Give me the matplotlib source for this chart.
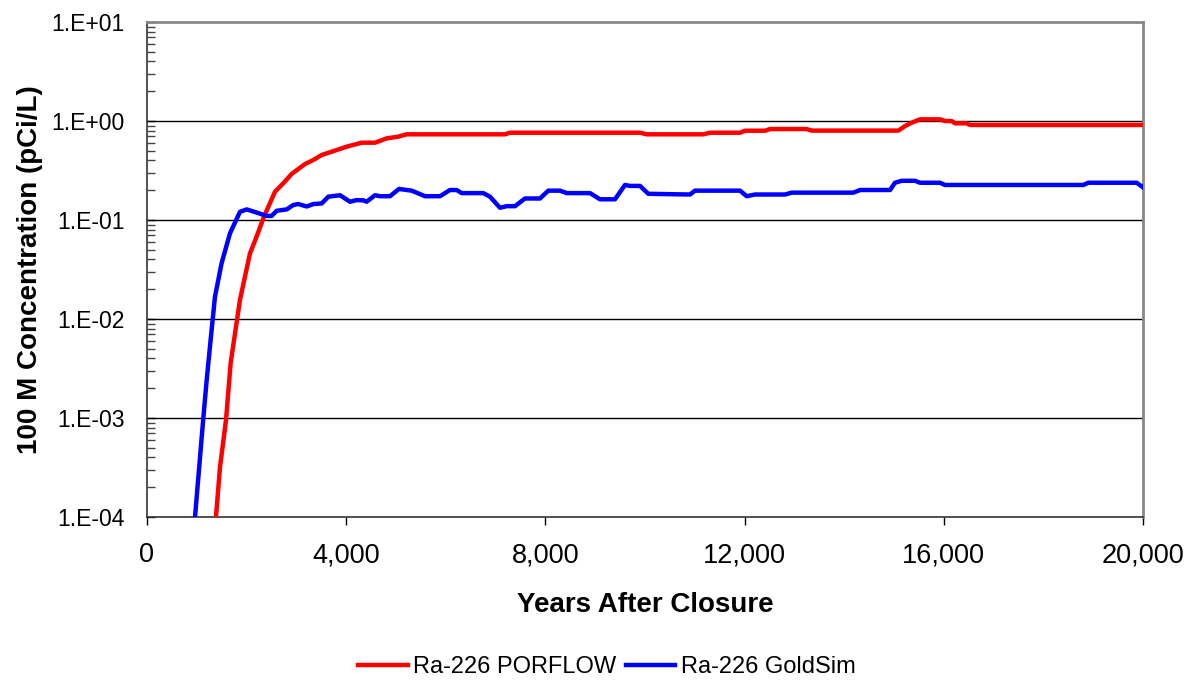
import numpy as np
import matplotlib
matplotlib.use("Agg")
import matplotlib.pyplot as plt
from matplotlib.ticker import FixedLocator, FuncFormatter, LogLocator, NullFormatter

plt.rcParams['font.family'] = ['Liberation Sans', 'DejaVu Sans']

# Ra-226 PORFLOW (lecture du graphique)
porflow_years = [1385, 1466, 1586, 1680, 1867, 2068, 2201, 2349, 2570, 2737, 2905,
                 3173, 3340, 3508, 3709, 4010, 4311, 4578, 4813, 5046, 5213, 7189,
                 7289, 9900, 10034, 11171, 11305, 11908, 12008, 12410, 12510, 13247,
                 13347, 15088, 15221, 15355, 15522, 15924, 16024, 16158, 16225,
                 16459, 16526, 20000]
porflow_conc = [1.0e-4, 3.2e-4, 9.5e-4, 3.6e-3, 0.0156, 0.046, 0.068, 0.108, 0.193,
                0.235, 0.292, 0.368, 0.404, 0.454, 0.490, 0.551, 0.604, 0.604, 0.668,
                0.695, 0.734, 0.734, 0.762, 0.762, 0.734, 0.734, 0.762, 0.762, 0.798,
                0.798, 0.830, 0.830, 0.80, 0.80, 0.889, 0.961, 1.04, 1.04, 1.0, 1.0,
                0.948, 0.948, 0.912, 0.912]

# Ra-226 GoldSim
goldsim_years = [964, 1131, 1198, 1277, 1365, 1498, 1667, 1867, 2002, 2201, 2402,
                 2503, 2604, 2805, 2938, 3039, 3207, 3340, 3508, 3641, 3876, 4076,
                 4209, 4344, 4410, 4578, 4679, 4880, 5060, 5315, 5582, 5884, 6084,
                 6218, 6319, 6754, 6888, 7088, 7222, 7390, 7590, 7892, 8058, 8293,
                 8427, 8896, 9096, 9398, 9598, 9699, 9900, 10066, 10904, 11004,
                 11908, 12042, 12209, 12811, 12946, 14183, 14317, 14920, 15020,
                 15154, 15422, 15522, 15924, 16024, 18802, 18902, 19873, 20000]
goldsim_conc = [1.0e-4, 1.0e-3, 2.4e-3, 6.1e-3, 0.0168, 0.0366, 0.0735, 0.121, 0.128,
                0.119, 0.110, 0.110, 0.124, 0.128, 0.142, 0.145, 0.137, 0.145, 0.147,
                0.172, 0.178, 0.153, 0.159, 0.158, 0.153, 0.178, 0.174, 0.174, 0.206,
                0.198, 0.174, 0.174, 0.201, 0.201, 0.187, 0.187, 0.172, 0.133, 0.138,
                0.138, 0.165, 0.165, 0.198, 0.198, 0.187, 0.187, 0.162, 0.162, 0.226,
                0.221, 0.221, 0.184, 0.181, 0.198, 0.198, 0.174, 0.181, 0.181, 0.189,
                0.189, 0.201, 0.201, 0.238, 0.249, 0.249, 0.238, 0.238, 0.226, 0.226,
                0.238, 0.238, 0.214]

x_ticks = [0, 4000, 8000, 12000, 16000, 20000]
y_ticks = [1e-4, 1e-3, 1e-2, 1e-1, 1e0, 1e1]
y_labels = ["1.E-04", "1.E-03", "1.E-02", "1.E-01", "1.E+00", "1.E+01"]

fig = plt.figure(figsize=(11.99, 6.88), dpi=100)
ax = fig.add_axes([0.1226, 0.2485, 0.8307, 0.7195])

ax.plot(porflow_years, porflow_conc, color='#ff0000', lw=3.2, label='Ra-226 PORFLOW',
        solid_joinstyle='round', zorder=3)
ax.plot(goldsim_years, goldsim_conc, color='#0000ff', lw=3.2, label='Ra-226 GoldSim',
        solid_joinstyle='round', zorder=3)

ax.set_yscale('log')
ax.set_ylim(1e-4, 1e1)
ax.set_xlim(0, 20000)

# grille horizontale (décades)
for v in y_ticks[1:-1]:
    ax.axhline(v, color='black', lw=1, zorder=1)

ax.yaxis.set_major_locator(FixedLocator(y_ticks))
ax.yaxis.set_major_formatter(FuncFormatter(lambda v, p: y_labels[y_ticks.index(v)] if v in y_ticks else ''))
ax.yaxis.set_minor_locator(LogLocator(base=10, subs=np.arange(2, 10)))
ax.yaxis.set_minor_formatter(NullFormatter())
ax.tick_params(axis='y', which='major', direction='in', length=6, width=1, labelsize=16.5, pad=16)
ax.tick_params(axis='y', which='minor', direction='in', length=6, width=1, color='#444444')

ax.set_xticks(x_ticks)
ax.set_xticklabels([f"{t:,}" for t in x_ticks])
ax.tick_params(axis='x', direction='out', length=6, width=1, labelsize=19.5, pad=12)

for side in ['left', 'bottom']:
    ax.spines[side].set_color('#333333')
    ax.spines[side].set_linewidth(1.2)
for side in ['top', 'right']:
    ax.spines[side].set_color('#888888')
    ax.spines[side].set_linewidth(2)

ax.set_xlabel("Years After Closure", fontsize=20, fontweight='bold', labelpad=17)
ax.set_ylabel("100 M Concentration (pCi/L)", fontsize=20, fontweight='bold', labelpad=6)

fig.legend(loc='center', bbox_to_anchor=(0.506, 0.03), ncol=2, frameon=False,
           fontsize=17, handlelength=2.1, columnspacing=0.42, handletextpad=0.22)

fig.savefig('out.png', dpi=100)
plt.close()
